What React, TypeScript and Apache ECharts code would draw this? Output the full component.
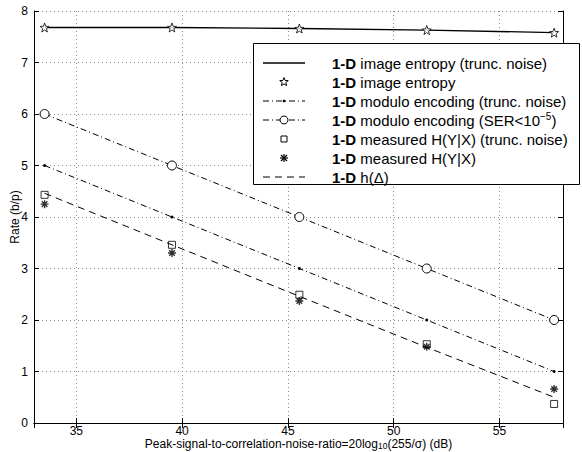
import React, { useEffect, useRef } from 'react';
import * as echarts from 'echarts';

// ---- data ----
const psnr = [33.5, 39.52, 45.54, 51.56, 57.58];
const entropyTrunc = [7.68, 7.68, 7.66, 7.63, 7.58];
const entropy = [7.68, 7.68, 7.66, 7.63, 7.58];
const moduloTrunc = [5.0, 4.0, 3.0, 2.0, 1.0];
const moduloSER = [6.0, 5.0, 4.0, 3.0, 2.0];
const measuredTrunc = [4.43, 3.46, 2.49, 1.53, 0.37];
const measured = [4.25, 3.3, 2.37, 1.48, 0.66];
const hDelta = [4.46, 3.46, 2.46, 1.47, 0.5];

const legendLabels = [
  ' image entropy (trunc. noise)',
  ' image entropy',
  ' modulo encoding (trunc. noise)',
  ' modulo encoding (SER<10',
  ' measured H(Y|X) (trunc. noise)',
  ' measured H(Y|X)',
  ' h(Δ)',
];

const FONT = 'Liberation Sans, Arial, Helvetica, sans-serif';

function starPoints(cx: number, cy: number, R: number, r: number): number[][] {
  const pts: number[][] = [];
  for (let i = 0; i < 10; i++) {
    const a = -Math.PI / 2 + (i * Math.PI) / 5;
    const rad = i % 2 === 0 ? R : r;
    pts.push([cx + rad * Math.cos(a), cy + rad * Math.sin(a)]);
  }
  return pts;
}
const starSymbol =
  'path://' +
  starPoints(10, 10, 10, 4.2)
    .map((p, i) => (i === 0 ? 'M' : 'L') + p[0].toFixed(2) + ' ' + p[1].toFixed(2))
    .join('') +
  'Z';
const asteriskSymbol = 'path://M5 0L5 10M0 5L10 5M1.5 1.5L8.5 8.5M8.5 1.5L1.5 8.5';

const zip = (ys: number[]) => psnr.map((x, i) => [x, ys[i]]);

export default function App() {
  const ref = useRef<HTMLDivElement>(null);
  useEffect(() => {
    if (!ref.current) return;
    const chart = echarts.init(ref.current, null, { renderer: 'svg' });

    const legX = 253, legY = 43, legW = 326, legH = 141;
    const rowY = [63, 82, 101, 120, 139, 158, 177];
    const sx0 = 263, sx1 = 305, scx = 284, tx = 332;
    const g: any[] = [];
    g.push({
      type: 'rect', z: 100,
      shape: { x: legX + 0.5, y: legY + 0.5, width: legW, height: legH },
      style: { fill: '#fff', stroke: '#000', lineWidth: 1 },
    });
    // samples
    g.push({ type: 'line', z: 101, shape: { x1: sx0, y1: rowY[0], x2: sx1, y2: rowY[0] }, style: { stroke: '#000', lineWidth: 1.3 } });
    g.push({ type: 'polygon', z: 101, shape: { points: starPoints(scx, rowY[1], 4.5, 1.9) }, style: { fill: 'none', stroke: '#000', lineWidth: 1 } });
    g.push({ type: 'line', z: 101, shape: { x1: sx0, y1: rowY[2], x2: sx1, y2: rowY[2] }, style: { stroke: '#000', lineWidth: 1, lineDash: [6, 3, 1, 3] } });
    g.push({ type: 'circle', z: 101, shape: { cx: scx, cy: rowY[2], r: 1.3 }, style: { fill: '#000' } });
    g.push({ type: 'line', z: 101, shape: { x1: sx0, y1: rowY[3], x2: sx1, y2: rowY[3] }, style: { stroke: '#000', lineWidth: 1, lineDash: [6, 3, 1, 3] } });
    g.push({ type: 'circle', z: 102, shape: { cx: scx, cy: rowY[3], r: 4 }, style: { fill: '#fff', stroke: '#000', lineWidth: 1 } });
    g.push({ type: 'rect', z: 101, shape: { x: scx - 3, y: rowY[4] - 3, width: 6, height: 6 }, style: { fill: 'none', stroke: '#000', lineWidth: 1 } });
    g.push({ type: 'polyline', z: 101, shape: { points: [[scx, rowY[5] - 4], [scx, rowY[5] + 4]] }, style: { stroke: '#000', lineWidth: 1.2 } });
    g.push({ type: 'polyline', z: 101, shape: { points: [[scx - 4, rowY[5]], [scx + 4, rowY[5]]] }, style: { stroke: '#000', lineWidth: 1.2 } });
    g.push({ type: 'polyline', z: 101, shape: { points: [[scx - 3, rowY[5] - 3], [scx + 3, rowY[5] + 3]] }, style: { stroke: '#000', lineWidth: 1.2 } });
    g.push({ type: 'polyline', z: 101, shape: { points: [[scx + 3, rowY[5] - 3], [scx - 3, rowY[5] + 3]] }, style: { stroke: '#000', lineWidth: 1.2 } });
    g.push({ type: 'line', z: 101, shape: { x1: sx0, y1: rowY[6], x2: sx1, y2: rowY[6] }, style: { stroke: '#000', lineWidth: 1, lineDash: [7, 5] } });
    legendLabels.forEach((lab, i) => {
      const supPart = i === 3 ? '{sup|−5}{n|)}' : '';
      g.push({
        type: 'text', z: 101, x: tx, y: rowY[i],
        style: {
          text: '{b|1-D}{n|' + lab + '}' + supPart,
          verticalAlign: 'middle', align: 'left',
          rich: {
            b: { fontFamily: FONT, fontSize: 15, fontWeight: 'bold', fill: '#000', lineHeight: 17 },
            n: { fontFamily: FONT, fontSize: 15, fill: '#000', lineHeight: 17 },
            sup: { fontFamily: FONT, fontSize: 10, fill: '#000', lineHeight: 10, verticalAlign: 'top' },
          },
        },
      });
    });

    const dashDot = [6, 3, 1, 3];
    chart.setOption({
      animation: false,
      backgroundColor: '#fff',
      grid: { left: 34, top: 11, right: 19, bottom: 29, containLabel: false, outerBoundsMode: 'none' },
      xAxis: [
        {
          type: 'value', min: 33, max: 58, splitNumber: 5,
          axisLine: { show: true, lineStyle: { color: '#000', width: 1 } },
          axisTick: { show: true, inside: true, length: 5, lineStyle: { color: '#000' } },
          axisLabel: {
            color: '#000', fontFamily: FONT, fontSize: 12, margin: 2, lineHeight: 12,
            showMinLabel: false, showMaxLabel: false,
          },
          splitLine: { show: true, lineStyle: { color: '#888', type: [1, 3], width: 1 } },
          name: '{n|Peak-signal-to-correlation-noise-ratio=20log}{s|10}{n|(255/σ) (dB)}',
          nameLocation: 'middle', nameGap: 15, nameMoveOverlap: false,
          nameTextStyle: {
            rich: {
              n: { fontFamily: FONT, fontSize: 12, color: '#000', lineHeight: 12 },
              s: { fontFamily: FONT, fontSize: 8.5, color: '#000', lineHeight: 8, verticalAlign: 'bottom' },
            },
          },
        },
        {
          type: 'value', min: 33, max: 58, splitNumber: 5, position: 'top',
          axisLine: { show: true, lineStyle: { color: '#000', width: 1 } },
          axisTick: { show: true, inside: true, length: 5, lineStyle: { color: '#000' } },
          axisLabel: { show: false }, splitLine: { show: false },
        },
      ],
      yAxis: [
        {
          type: 'value', min: 0, max: 8, interval: 1,
          axisLine: { show: true, lineStyle: { color: '#000', width: 1 } },
          axisTick: { show: true, inside: true, length: 5, lineStyle: { color: '#000' } },
          axisLabel: { color: '#000', fontFamily: FONT, fontSize: 12, margin: 6 },
          splitLine: { show: true, lineStyle: { color: '#888', type: [1, 3], width: 1 } },
          name: 'Rate (b/p)', nameLocation: 'middle', nameGap: 13, nameMoveOverlap: false,
          nameTextStyle: { fontFamily: FONT, fontSize: 12, color: '#000' },
        },
        {
          type: 'value', min: 0, max: 8, interval: 1, position: 'right',
          axisLine: { show: true, lineStyle: { color: '#000', width: 1 } },
          axisTick: { show: true, inside: true, length: 5, lineStyle: { color: '#000' } },
          axisLabel: { show: false }, splitLine: { show: false },
        },
      ],
      series: [
        {
          name: '1-D image entropy (trunc. noise)', type: 'line', data: zip(entropyTrunc),
          showSymbol: false, symbol: 'none',
          lineStyle: { color: '#000', width: 1.3 }, z: 2,
        },
        {
          name: '1-D image entropy', type: 'scatter', data: zip(entropy),
          symbol: starSymbol, symbolSize: 9,
          itemStyle: { color: '#fff', borderColor: '#000', borderWidth: 1 }, z: 3,
        },
        {
          name: '1-D modulo encoding (trunc. noise)', type: 'line', data: zip(moduloTrunc),
          symbol: 'circle', symbolSize: 3, showSymbol: true,
          itemStyle: { color: '#000' },
          lineStyle: { color: '#000', width: 1, type: dashDot }, z: 2,
        },
        {
          name: '1-D modulo encoding (SER<10^-5)', type: 'line', data: zip(moduloSER),
          symbol: 'circle', symbolSize: 9, showSymbol: true,
          itemStyle: { color: '#fff', borderColor: '#000', borderWidth: 1 },
          lineStyle: { color: '#000', width: 1, type: dashDot }, z: 2,
        },
        {
          name: '1-D measured H(Y|X) (trunc. noise)', type: 'scatter', data: zip(measuredTrunc),
          symbol: 'rect', symbolSize: 7,
          itemStyle: { color: 'rgba(0,0,0,0)', borderColor: '#000', borderWidth: 1 }, z: 3,
        },
        {
          name: '1-D measured H(Y|X)', type: 'scatter', data: zip(measured),
          symbol: asteriskSymbol, symbolSize: 8,
          itemStyle: { color: 'rgba(0,0,0,0)', borderColor: '#000', borderWidth: 1.4 }, z: 3,
        },
        {
          name: '1-D h(Δ)', type: 'line', data: zip(hDelta),
          showSymbol: false, symbol: 'none',
          lineStyle: { color: '#000', width: 1, type: [7, 5] }, z: 2,
        },
      ],
      graphic: g,
    });
    return () => chart.dispose();
  }, []);
  return <div ref={ref} style={{ width: 582, height: 452, position: 'absolute', left: 0, top: 0 }} />;
}
